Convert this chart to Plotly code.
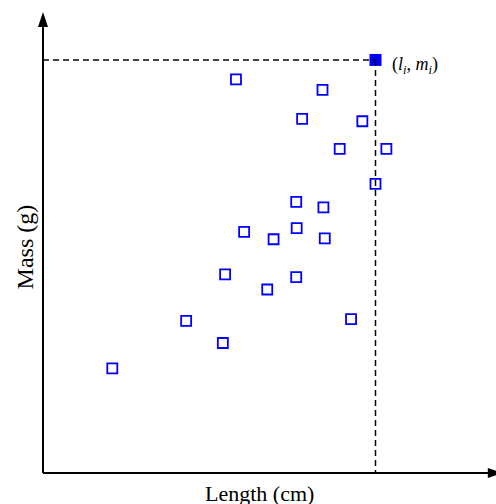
import plotly.graph_objects as go

# Data (arbitrary units; axes have no ticks)
length_cm = [4.26, 6.17, 5.72, 7.05, 6.55, 7.58, 7.34, 5.59, 6.19, 4.44,
             5.09, 5.60, 6.22, 4.02, 5.59, 4.95, 3.16, 6.80, 3.97, 1.53]
mass_g = [8.54, 8.31, 7.68, 7.63, 7.03, 7.03, 6.27, 5.88, 5.76, 5.23,
          5.07, 5.31, 5.09, 4.31, 4.25, 3.98, 3.30, 3.34, 2.82, 2.27]
highlight_l = [7.34]
highlight_m = [8.96]
point_label = "(<i>l<sub>i</sub></i>, <i>m<sub>i</sub></i>)"
x_title = "Length (cm)"
y_title = "Mass (g)"

serif = "Liberation Serif, Times New Roman, serif"
blue = "#0000ff"

fig = go.Figure()
fig.add_trace(go.Scatter(
    x=length_cm, y=mass_g, mode="markers",
    marker=dict(symbol="square-open", size=10, color=blue,
                line=dict(width=1.8, color=blue)),
    hoverinfo="skip", showlegend=False))

# dashed guide lines to the highlighted point
hx, hy = highlight_l[0], highlight_m[0]
fig.add_shape(type="line", xref="x", yref="y", x0=0, y0=hy, x1=hx, y1=hy,
              line=dict(color="black", width=1.5, dash="6px,4px"))
fig.add_shape(type="line", xref="x", yref="y", x0=hx, y0=hy, x1=hx, y1=0,
              line=dict(color="black", width=1.5, dash="6px,4px"))

fig.add_trace(go.Scatter(
    x=highlight_l, y=highlight_m, mode="markers",
    marker=dict(symbol="square", size=12, color=blue, line=dict(width=0)),
    hoverinfo="skip", showlegend=False))

fig.add_annotation(x=hx, y=hy, xref="x", yref="y", text=point_label,
                   showarrow=False, xanchor="left", yanchor="middle",
                   xshift=14, yshift=-6,
                   font=dict(family=serif, size=18, color="black"))

# axes with arrowheads (paper coords)
fig.add_shape(type="line", xref="paper", yref="paper", x0=0, y0=0, x1=0, y1=0.985,
              line=dict(color="black", width=2))
fig.add_shape(type="line", xref="paper", yref="paper", x0=0, y0=0, x1=1.0, y1=0,
              line=dict(color="black", width=2))
fig.add_shape(type="path", xref="paper", yref="paper",
              xsizemode="pixel", ysizemode="pixel", xanchor=0, yanchor=1.0,
              path="M0,0 L-5,-15 L5,-15 Z", fillcolor="black",
              line=dict(color="black", width=0))
fig.add_shape(type="path", xref="paper", yref="paper",
              xsizemode="pixel", ysizemode="pixel", xanchor=1.015, yanchor=0,
              path="M0,0 L-15,5 L-15,-5 Z", fillcolor="black",
              line=dict(color="black", width=0))

fig.add_annotation(x=0.477, y=-0.044, xref="paper", yref="paper", text=x_title,
                   showarrow=False, xanchor="center", yanchor="middle",
                   font=dict(family=serif, size=22, color="black"))
fig.add_annotation(x=-0.039, y=0.49, xref="paper", yref="paper", text=y_title,
                   showarrow=False, xanchor="center", yanchor="middle", textangle=-90,
                   font=dict(family=serif, size=24, color="black"))

ax = dict(range=[0, 10], showgrid=False, zeroline=False, showticklabels=False,
          showline=False, ticks="", fixedrange=True)
fig.update_xaxes(**ax)
fig.update_yaxes(**ax)
fig.update_layout(width=496, height=504,
                  margin=dict(l=43, r=0, t=12, b=31, pad=0),
                  paper_bgcolor="white", plot_bgcolor="white",
                  hovermode=False)

fig.write_html("out.html", config={"displayModeBar": False},
               post_script="document.body.style.margin='0';document.body.style.padding='0';document.body.style.overflow='hidden';")
